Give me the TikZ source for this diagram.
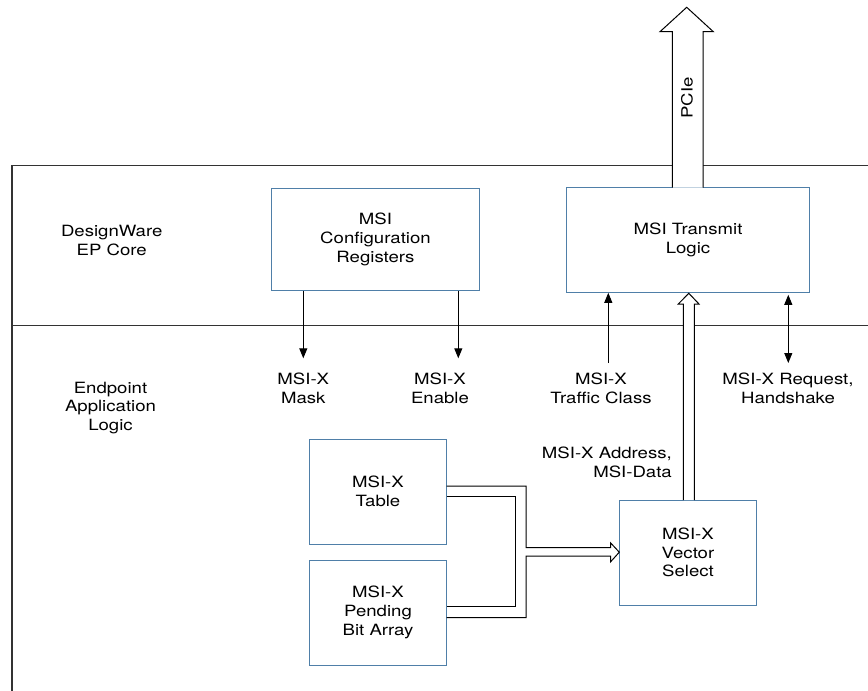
\documentclass[tikz,border=0pt]{standalone}
\usepackage{fontspec}
\setmainfont[FakeStretch=1.2]{TeX Gyre Heros}
\usetikzlibrary{arrows.meta}
\definecolor{boxblue}{HTML}{4F7FA8}
\definecolor{frameline}{HTML}{333333}
\begin{document}
\begin{tikzpicture}[x=1bp,y=-1bp,
  lbl/.style={font=\fontsize{15.5bp}{18.8bp}\selectfont, align=center, inner sep=0pt},
  blk/.style={lbl, draw=boxblue, line width=1bp, fill=white},
  sig/.style={draw=black, line width=1bp, -{Triangle[length=10bp,width=8bp]}},
  sigboth/.style={draw=black, line width=1bp, {Triangle[length=10bp,width=8bp]}-{Triangle[length=10bp,width=8bp]}},
  hollow/.style={draw=black, line width=1bp, fill=white, line join=miter},
  frameln/.style={draw=frameline, line width=1.2bp}
]
\useasboundingbox (0,0) rectangle (868,691);
% frame
\draw[frameln] (12,691) -- (12,165.7) -- (868,165.7);
\draw[frameln] (12,325.7) -- (868,325.7);

% blocks
\node[blk, minimum width=207.6bp, minimum height=102.4bp] (cfg) at (375.5,239.5) {MSI\\Configuration\\Registers};
\node[blk, minimum width=242.6bp, minimum height=104.6bp] (tx) at (688,240) {MSI Transmit\\Logic};
\node[blk, minimum width=137.4bp, minimum height=105bp] (tbl) at (378,491.5) {MSI-X\\Table};
\node[blk, minimum width=137.4bp, minimum height=105bp] (pba) at (378,612.5) {MSI-X\\Pending\\Bit Array};
\node[blk, minimum width=137.4bp, minimum height=105bp] (vs) at (688,552.5) {MSI-X\\Vector\\Select};

% region labels
\node[lbl] (dw) at (111.7,240.2) {DesignWare\\EP Core};
\node[lbl] (ep) at (110.5,408) {Endpoint\\Application\\Logic};

% signal labels
\node[lbl] (mask) at (303.3,388) {MSI-X\\Mask};
\node[lbl] (en) at (440,388) {MSI-X\\Enable};
\node[lbl] (tc) at (601,388) {MSI-X\\Traffic Class};
\node[lbl] (rq) at (788,388) {MSI-X Request,\\Handshake};
\node[lbl, anchor=east, align=right] (ad) at (672,462.7) {MSI-X Address,\\MSI-Data};

% signal arrows
\coordinate (maskTip) at (303.3,358.3);
\coordinate (enTip) at (458.3,358.3);
\coordinate (tcFoot) at (608.3,363);
\coordinate (rqFoot) at (788.3,363);
\draw[sig] (cfg.south -| maskTip) -- (maskTip);
\draw[sig] (cfg.south -| enTip) -- (enTip);
\draw[sig] (tcFoot) -- (tcFoot |- tx.south);
\draw[sigboth, shorten >=2bp] (rqFoot) -- (rqFoot |- tx.south);

% PCIe hollow arrow
\draw[hollow] (672.3,187.7) -- (672.3,31.7) -- (660,31.7) -- (686.7,7.3) -- (713.3,31.7) -- (703,31.7) -- (703,187.7);
\node[lbl, rotate=90] (pcie) at (687,98) {PCIe};

% address/data hollow arrow
\draw[hollow] (683.3,500) -- (683.3,304) -- (678.3,304) -- (688.8,293.3) -- (699,304) -- (694.3,304) -- (694.3,500);

% bus from table and PBA to vector select
\draw[hollow, fill=none] (446.7,486) -- (526,486) -- (526,547.7) -- (610.7,547.7) -- (610.7,543) -- (619.3,552.2) -- (610.7,561.7) -- (610.7,556) -- (526,556) -- (526,617.7) -- (446.7,617.7);
\draw[hollow, fill=none] (446.7,496) -- (515.7,496) -- (515.7,606.7) -- (446.7,606.7);
\end{tikzpicture}
\end{document}
